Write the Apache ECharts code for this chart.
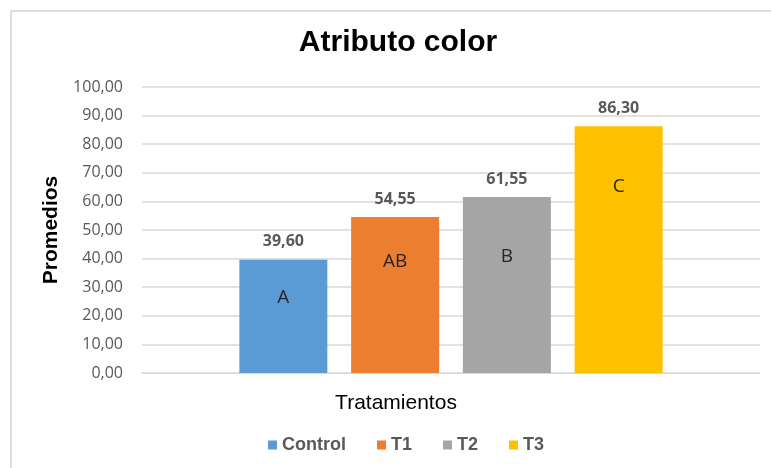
<!DOCTYPE html>
<html>
<head>
<meta charset="utf-8">
<script src="https://cdn.jsdelivr.net/npm/echarts@6/dist/echarts.min.js"></script>
<style>
  html, body { margin: 0; padding: 0; background: #fff; }
  #frame { position: absolute; left: 10px; top: 10px; width: 800px; height: 500px;
           border-left: 2px solid #dedede; border-top: 2px solid #dedede; }
  #chart { position: absolute; left: 0; top: 0; width: 771px; height: 468px; }
</style>
</head>
<body>
<div id="frame"></div>
<div id="chart"></div>
<script>
// Treatments, mean scores and significance letters
const treatments = ['Control', 'T1', 'T2', 'T3'];
const means = [39.60, 54.55, 61.55, 86.30];
const groups = ['A', 'AB', 'B', 'C'];
const colors = ['#5B9BD5', '#ED7D31', '#A5A5A5', '#FFC000'];
const yTicks = [0, 10, 20, 30, 40, 50, 60, 70, 80, 90, 100];
// how far below each bar top its letter sits
const letterDrop = [26, 33, 48, 48];

const fmt = v => v.toFixed(2).replace('.', ',');

const barSeries = treatments.map((name, i) => ({
  name: name,
  type: 'bar',
  xAxisIndex: 0,
  barWidth: 88,
  barGap: '27%',
  data: [means[i]],
  itemStyle: { color: colors[i] },
  label: {
    show: true,
    position: 'top',
    distance: 10,
    formatter: p => fmt(p.value),
    fontFamily: 'Open Sans',
    fontWeight: 'bold',
    fontSize: 16,
    color: '#595959'
  }
}));

// transparent twins carrying the letters inside the bars
const letterSeries = treatments.map((name, i) => ({
  name: name + ' grupo',
  type: 'bar',
  xAxisIndex: 1,
  barWidth: 88,
  barGap: '27%',
  silent: true,
  data: [means[i]],
  itemStyle: { color: 'rgba(0,0,0,0)' },
  label: {
    show: true,
    position: 'insideTop',
    distance: letterDrop[i],
    formatter: groups[i],
    fontFamily: 'Open Sans',
    fontSize: 19,
    lineHeight: 24,
    color: '#262626'
  }
}));

const chart = echarts.init(document.getElementById('chart'), null, { renderer: 'canvas' });
chart.setOption({
  animation: false,
  title: [
    {
      text: 'Atributo color',
      left: 393, top: 23, textAlign: 'center',
      textStyle: { fontFamily: 'Liberation Sans', fontWeight: 'bold', fontSize: 30, color: '#000' }
    },
    {
      text: 'Tratamientos',
      left: 391, top: 388, textAlign: 'center',
      textStyle: { fontFamily: 'Liberation Sans', fontWeight: 'normal', fontSize: 21, color: '#000' }
    }
  ],
  legend: {
    data: treatments,
    left: 263, top: 431,
    icon: 'rect', itemWidth: 9, itemHeight: 9, itemGap: 31,
    textStyle: { fontFamily: 'Liberation Sans', fontWeight: 'bold', fontSize: 18, color: '#595959' }
  },
  grid: { left: 142, right: 11, top: 87, bottom: 95 },
  xAxis: [
    {
      type: 'category', data: [''],
      axisLine: { lineStyle: { color: '#d9d9d9' } },
      axisTick: { show: false }, axisLabel: { show: false }
    },
    { type: 'category', data: [''], show: false }
  ],
  yAxis: {
    type: 'value',
    min: yTicks[0], max: yTicks[yTicks.length - 1], interval: 10,
    name: 'Promedios',
    nameLocation: 'middle', nameGap: 80,
    nameTextStyle: { fontFamily: 'Liberation Sans', fontWeight: 'bold', fontSize: 21, color: '#000' },
    axisLine: { show: false }, axisTick: { show: false },
    axisLabel: {
      margin: 19, formatter: v => fmt(v),
      fontFamily: 'Open Sans', fontSize: 16, color: '#595959'
    },
    splitLine: { lineStyle: { color: '#d9d9d9', width: 1.5 } }
  },
  series: barSeries.concat(letterSeries)
});
</script>
</body>
</html>
